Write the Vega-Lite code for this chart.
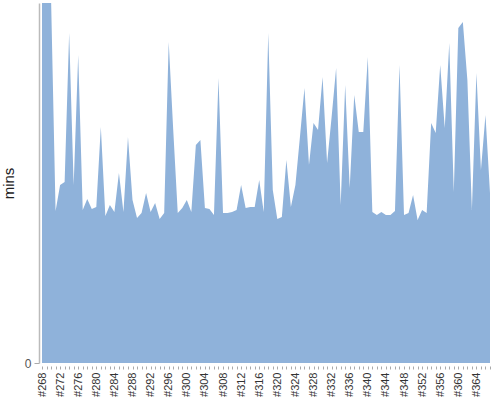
{
  "$schema": "https://vega.github.io/schema/vega-lite/v6.json",
  "width": 448,
  "height": 360,
  "autosize": "none",
  "padding": {"left": 42, "top": 3, "right": 10, "bottom": 37},
  "config": {"view": {"stroke": null}, "font": "Liberation Sans"},
  "data": {"values": [
    {"build": "#268", "mins": 420}, {"build": "#269", "mins": 420}, {"build": "#270", "mins": 365}, {"build": "#271", "mins": 152},
    {"build": "#272", "mins": 178}, {"build": "#273", "mins": 181}, {"build": "#274", "mins": 330}, {"build": "#275", "mins": 178},
    {"build": "#276", "mins": 308}, {"build": "#277", "mins": 153}, {"build": "#278", "mins": 164}, {"build": "#279", "mins": 154},
    {"build": "#280", "mins": 156}, {"build": "#281", "mins": 236}, {"build": "#282", "mins": 147}, {"build": "#283", "mins": 158},
    {"build": "#284", "mins": 151}, {"build": "#285", "mins": 190}, {"build": "#286", "mins": 151}, {"build": "#287", "mins": 226},
    {"build": "#288", "mins": 163}, {"build": "#289", "mins": 145}, {"build": "#290", "mins": 150}, {"build": "#291", "mins": 170},
    {"build": "#292", "mins": 151}, {"build": "#293", "mins": 160}, {"build": "#294", "mins": 144}, {"build": "#295", "mins": 150},
    {"build": "#296", "mins": 321}, {"build": "#297", "mins": 233}, {"build": "#298", "mins": 150}, {"build": "#299", "mins": 155},
    {"build": "#300", "mins": 163}, {"build": "#301", "mins": 151}, {"build": "#302", "mins": 218}, {"build": "#303", "mins": 223},
    {"build": "#304", "mins": 155}, {"build": "#305", "mins": 154}, {"build": "#306", "mins": 148}, {"build": "#307", "mins": 285},
    {"build": "#308", "mins": 150}, {"build": "#309", "mins": 150}, {"build": "#310", "mins": 151}, {"build": "#311", "mins": 153},
    {"build": "#312", "mins": 178}, {"build": "#313", "mins": 155}, {"build": "#314", "mins": 156}, {"build": "#315", "mins": 156},
    {"build": "#316", "mins": 183}, {"build": "#317", "mins": 151}, {"build": "#318", "mins": 330}, {"build": "#319", "mins": 173},
    {"build": "#320", "mins": 144}, {"build": "#321", "mins": 146}, {"build": "#322", "mins": 203}, {"build": "#323", "mins": 156},
    {"build": "#324", "mins": 178}, {"build": "#325", "mins": 226}, {"build": "#326", "mins": 275}, {"build": "#327", "mins": 198},
    {"build": "#328", "mins": 240}, {"build": "#329", "mins": 233}, {"build": "#330", "mins": 286}, {"build": "#331", "mins": 200},
    {"build": "#332", "mins": 246}, {"build": "#333", "mins": 295}, {"build": "#334", "mins": 158}, {"build": "#335", "mins": 278},
    {"build": "#336", "mins": 175}, {"build": "#337", "mins": 268}, {"build": "#338", "mins": 231}, {"build": "#339", "mins": 231},
    {"build": "#340", "mins": 306}, {"build": "#341", "mins": 151}, {"build": "#342", "mins": 148}, {"build": "#343", "mins": 151},
    {"build": "#344", "mins": 148}, {"build": "#345", "mins": 148}, {"build": "#346", "mins": 152}, {"build": "#347", "mins": 298},
    {"build": "#348", "mins": 148}, {"build": "#349", "mins": 150}, {"build": "#350", "mins": 168}, {"build": "#351", "mins": 143},
    {"build": "#352", "mins": 153}, {"build": "#353", "mins": 150}, {"build": "#354", "mins": 240}, {"build": "#355", "mins": 230},
    {"build": "#356", "mins": 298}, {"build": "#357", "mins": 235}, {"build": "#358", "mins": 320}, {"build": "#359", "mins": 171},
    {"build": "#360", "mins": 335}, {"build": "#361", "mins": 341}, {"build": "#362", "mins": 283}, {"build": "#363", "mins": 153},
    {"build": "#364", "mins": 290}, {"build": "#365", "mins": 193}, {"build": "#366", "mins": 248}, {"build": "#367", "mins": 170}
  ]},
  "mark": {"type": "area", "color": "#8fb2da", "clip": true, "opacity": 1},
  "encoding": {
    "x": {
      "field": "build", "type": "ordinal", "sort": null,
      "scale": {"type": "point", "padding": 0},
      "axis": {
        "title": null, "labelAngle": -90, "domain": false, "grid": false,
        "offset": 3, "tickSize": 3, "tickColor": "#aaaaaa", "tickWidth": 1,
        "labelFontSize": 11, "labelColor": "#333333", "labelPadding": 3,
        "labelExpr": "parseInt(substring(datum.value, 1)) % 4 == 0 ? datum.value : ''"
      }
    },
    "y": {
      "field": "mins", "type": "quantitative",
      "scale": {"domain": [0, 360], "nice": false, "zero": true},
      "axis": {
        "title": "mins", "titleFontSize": 15, "titleFontWeight": "normal", "titleColor": "#222222", "titlePadding": 8,
        "values": [0], "grid": false, "offset": 3, "domainColor": "#bbbbbb", "domainWidth": 1.5,
        "tickColor": "#aaaaaa", "tickSize": 5, "labelPadding": 3, "labelFontSize": 12, "labelColor": "#555555"
      }
    }
  }
}
